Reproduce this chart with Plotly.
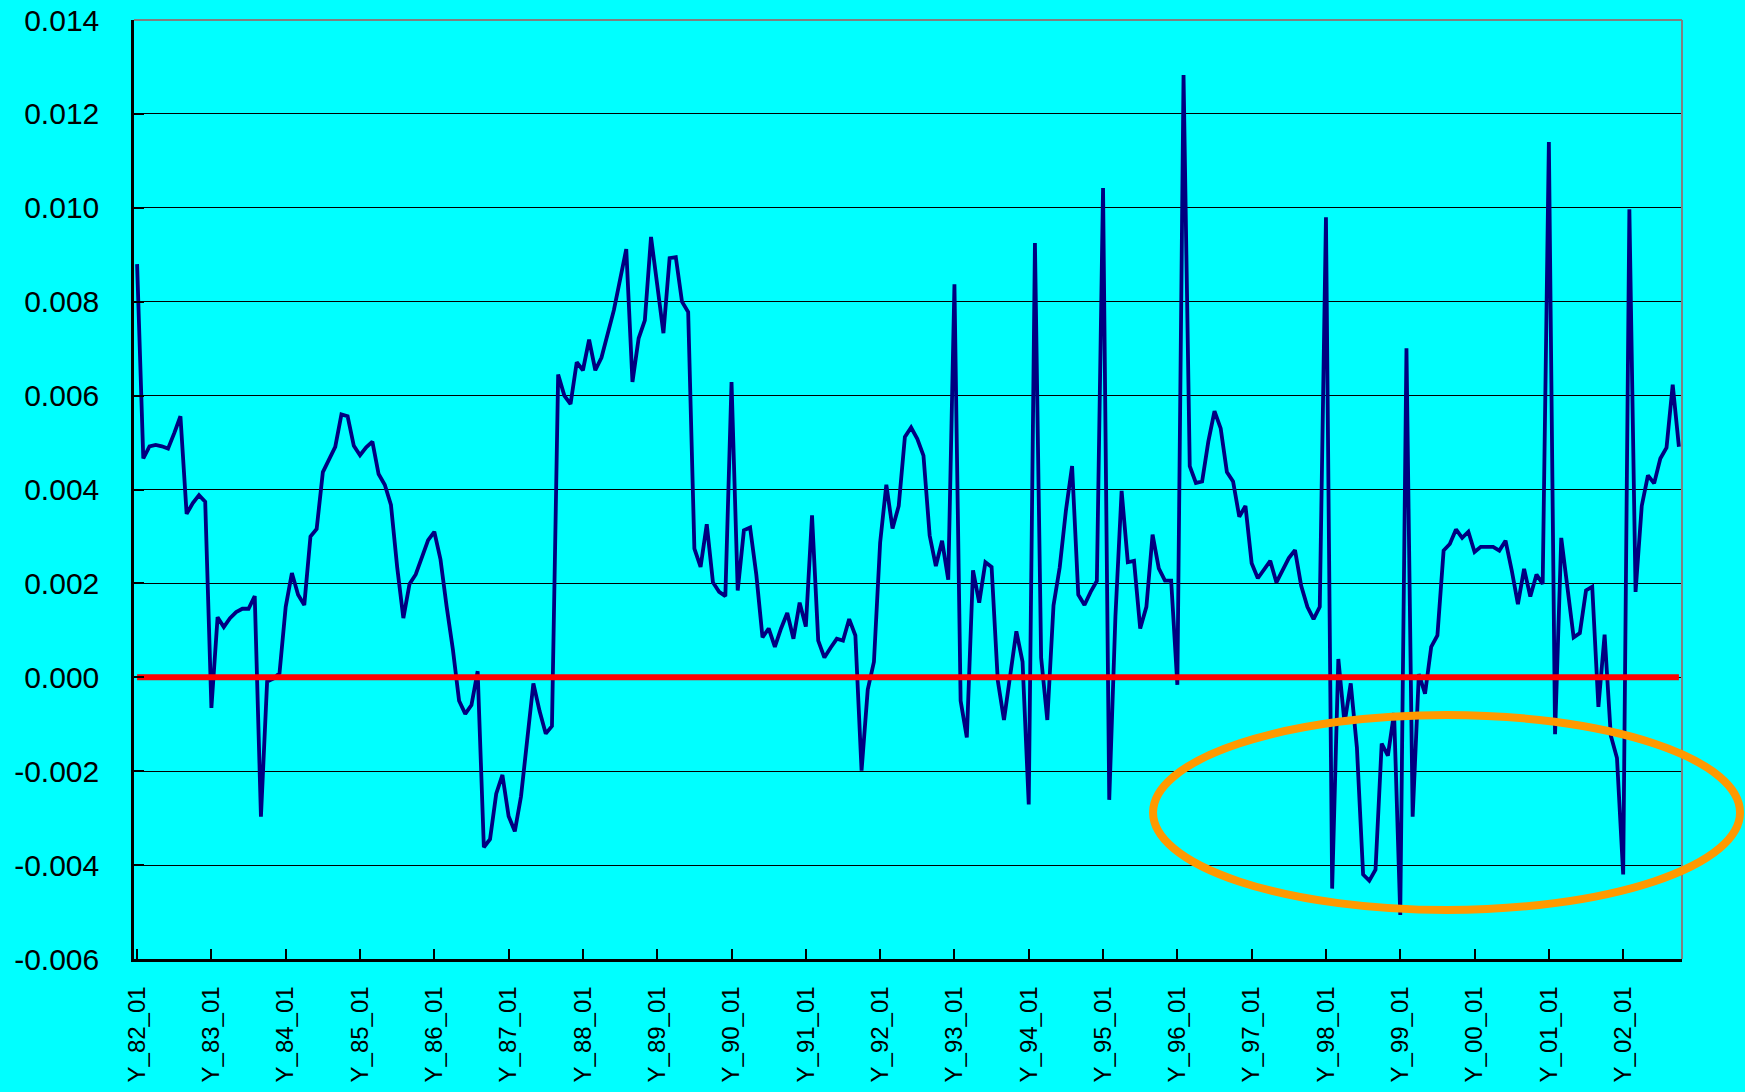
import plotly.graph_objects as go

# monthly labels Y_82_01 ... Y_02_10
months = [f"Y_{(82 + m // 12) % 100:02d}_{m % 12 + 1:02d}" for m in range(250)]

# monthly values, one row per year
spread = [
    0.0088, 0.00466, 0.00492, 0.00495, 0.00492, 0.00487, 0.0052, 0.00556, 0.00348, 0.00371, 0.00388, 0.00374,
    -0.00065, 0.00128, 0.00107, 0.00126, 0.00139, 0.00146, 0.00146, 0.00173, -0.00297, -0.00009, -0.00003, 0.00009,
    0.0015, 0.00222, 0.00176, 0.00154, 0.0030, 0.00316, 0.00437, 0.00463, 0.00491, 0.0056, 0.00556, 0.00493,
    0.00473, 0.0049, 0.00502, 0.00433, 0.0041, 0.00367, 0.00235, 0.00126, 0.00199, 0.00219, 0.00254, 0.00292,
    0.0031, 0.00251, 0.0015, 0.00059, -0.0005, -0.00078, -0.00059, 0.00013, -0.00362, -0.00345, -0.00248, -0.00208,
    -0.00296, -0.00328, -0.00254, -0.0013, -0.00013, -0.00072, -0.0012, -0.00104, 0.00645, 0.006, 0.00582, 0.00671,
    0.00654, 0.00719, 0.00654, 0.00681, 0.0073, 0.00782, 0.00847, 0.00912, 0.00629, 0.00722, 0.0076, 0.00938,
    0.00836, 0.00733, 0.00893, 0.00895, 0.008, 0.00778, 0.00274, 0.00235, 0.00326, 0.00202, 0.00182, 0.00173,
    0.00629, 0.00185, 0.00313, 0.00319, 0.00219, 0.00085, 0.00104, 0.00065, 0.00104, 0.00137, 0.00082, 0.00159,
    0.00108, 0.00345, 0.00078, 0.00042, 0.00063, 0.00082, 0.00078, 0.00124, 0.00089, -0.00199, -0.00026, 0.00033,
    0.00287, 0.0041, 0.00317, 0.00365, 0.00512, 0.00532, 0.00508, 0.00472, 0.00302, 0.00237, 0.00291, 0.00208,
    0.00837, -0.0005, -0.00128, 0.00228, 0.00159, 0.00245, 0.00235, -0.00007, -0.00091, 0.00007, 0.00098, 0.00033,
    -0.00271, 0.00925, 0.00042, -0.00091, 0.00153, 0.00234, 0.00355, 0.0045, 0.00176, 0.00154, 0.00182, 0.00205,
    0.01042, -0.00261, 0.0013, 0.00397, 0.00245, 0.00248, 0.00104, 0.0015, 0.00304, 0.00232, 0.00206, 0.00206,
    -0.00016, 0.01283, 0.0045, 0.00414, 0.00417, 0.00502, 0.00567, 0.0053, 0.00437, 0.00417, 0.00342, 0.00365,
    0.00243, 0.00211, 0.00228, 0.00248, 0.00202, 0.00228, 0.00254, 0.00271, 0.00195, 0.0015, 0.00124, 0.0015,
    0.0098, -0.0045, 0.00039, -0.00098, -0.00013, -0.0015, -0.0042, -0.00433, -0.0041, -0.00141, -0.00167, -0.00076,
    -0.00506, 0.00701, -0.00297, 0.00007, -0.00035, 0.00065, 0.00089, 0.0027, 0.00284, 0.00315, 0.00297, 0.0031,
    0.00267, 0.00278, 0.00278, 0.00278, 0.0027, 0.00291, 0.00228, 0.00156, 0.00231, 0.00172, 0.00219, 0.00199,
    0.0114, -0.00121, 0.00297, 0.00189, 0.00085, 0.00094, 0.00185, 0.00193, -0.00063, 0.00091, -0.00124, -0.00172,
    -0.0042, 0.00997, 0.00182, 0.00365, 0.0043, 0.00413, 0.00466, 0.00489, 0.00623, 0.00491,
]
zero_line = [0.0] * len(months)

y_ticks = [-0.006, -0.004, -0.002, 0.0, 0.002, 0.004, 0.006, 0.008, 0.010, 0.012, 0.014]
y_labels = ["-0.006", "-0.004", "-0.002", "0.000", "0.002", "0.004", "0.006", "0.008", "0.010", "0.012", "0.014"]
x_ticks = months[::12]

fig = go.Figure()
fig.add_trace(go.Scatter(x=months, y=spread, mode="lines",
                         line=dict(color="#000080", width=3.8), showlegend=False))
fig.add_trace(go.Scatter(x=months, y=zero_line, mode="lines",
                         line=dict(color="#FF0000", width=6), showlegend=False))

# gray plot-area border on top and right
fig.add_shape(type="line", xref="paper", yref="paper", x0=0, x1=1, y0=1, y1=1,
              line=dict(color="#808080", width=2), layer="above")
fig.add_shape(type="line", xref="paper", yref="paper", x0=1, x1=1, y0=0, y1=1,
              line=dict(color="#808080", width=2), layer="above")

# orange ellipse highlighting the late negative spikes
fig.add_shape(type="circle", xref="paper", yref="paper",
              x0=0.6583, x1=1.0375, y0=0.0522, y1=0.2599,
              line=dict(color="#FF9900", width=8), layer="above")

fig.update_layout(
    width=1745, height=1092,
    margin=dict(l=134, r=63, t=20, b=133),
    paper_bgcolor="#00FFFF", plot_bgcolor="#00FFFF",
    font=dict(family="Liberation Sans, Arial, sans-serif", size=30, color="black"),
)
fig.update_xaxes(
    type="category", range=[-0.5, len(months) - 0.5],
    tickmode="array", tickvals=x_ticks, ticktext=x_ticks, tickangle=-90,
    tickfont=dict(family="Liberation Sans, Arial, sans-serif", size=24),
    ticks="inside", ticklen=10, tickwidth=2, tickcolor="black",
    ticklabelstandoff=15, automargin=False,
    showline=True, linecolor="black", linewidth=2.5,
    showgrid=False, zeroline=False,
)
fig.update_yaxes(
    range=[-0.006, 0.014], tickmode="array", tickvals=y_ticks, ticktext=y_labels,
    ticks="inside", ticklen=10, tickwidth=2, tickcolor="black",
    ticklabelstandoff=26, automargin=False,
    showline=True, linecolor="black", linewidth=2.5,
    showgrid=True, gridcolor="black", gridwidth=1.2, zeroline=False,
)

fig.write_html("out.html", config={"displayModeBar": False},
               post_script="document.body.style.margin='0';")
